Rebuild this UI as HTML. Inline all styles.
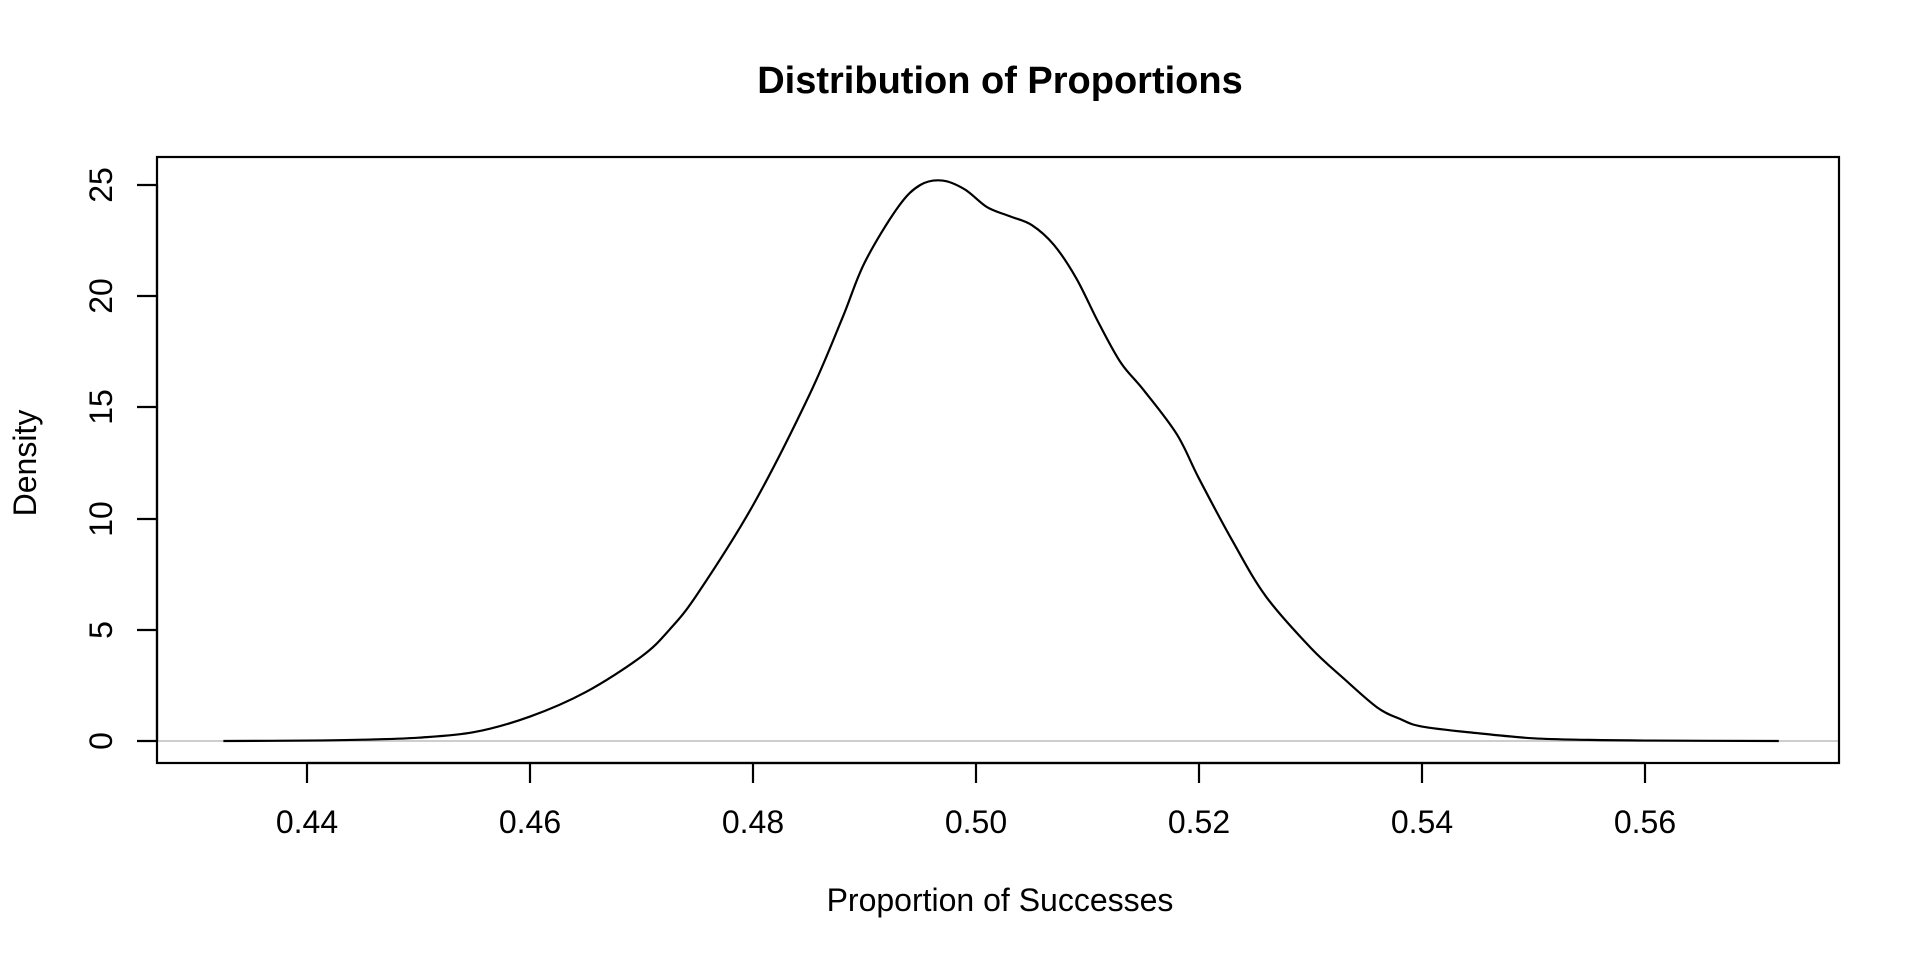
<!DOCTYPE html>
<html><head><meta charset="utf-8"><style>
html,body{margin:0;padding:0;background:#fff;}
svg{display:block;font-family:"Liberation Sans",Arial,sans-serif;}
</style></head><body>
<svg id="s" width="1920" height="960" viewBox="0 0 1920 960" xmlns="http://www.w3.org/2000/svg">
<rect width="1920" height="960" fill="#fff"/>
<text x="1000" y="93" font-size="38" font-weight="bold" text-anchor="middle">Distribution of Proportions</text>
<line x1="157" y1="741" x2="1839" y2="741" stroke="#bebebe" stroke-width="1.5"/>
<path id="curve" d="" fill="none" stroke="#000" stroke-width="2.2" stroke-linejoin="round"/>
<rect x="157" y="157" width="1682" height="606" fill="none" stroke="#000" stroke-width="2.2"/>
<g stroke="#000" stroke-width="2.2">
<line x1="307" y1="763" x2="1645" y2="763"/>
<line x1="307" y1="763" x2="307" y2="783"/><line x1="530" y1="763" x2="530" y2="783"/>
<line x1="753" y1="763" x2="753" y2="783"/><line x1="976" y1="763" x2="976" y2="783"/>
<line x1="1199" y1="763" x2="1199" y2="783"/><line x1="1422" y1="763" x2="1422" y2="783"/>
<line x1="1645" y1="763" x2="1645" y2="783"/>
<line x1="157" y1="741" x2="157" y2="185"/>
<line x1="137" y1="741" x2="157" y2="741"/><line x1="137" y1="630" x2="157" y2="630"/>
<line x1="137" y1="519" x2="157" y2="519"/><line x1="137" y1="407" x2="157" y2="407"/>
<line x1="137" y1="296" x2="157" y2="296"/><line x1="137" y1="185" x2="157" y2="185"/>
</g>
<g font-size="32" text-anchor="middle">
<text x="307" y="833">0.44</text><text x="530" y="833">0.46</text><text x="753" y="833">0.48</text>
<text x="976" y="833">0.50</text><text x="1199" y="833">0.52</text><text x="1422" y="833">0.54</text>
<text x="1645" y="833">0.56</text>
<text transform="translate(112,741) rotate(-90)">0</text>
<text transform="translate(112,630) rotate(-90)">5</text>
<text transform="translate(112,519) rotate(-90)">10</text>
<text transform="translate(112,407) rotate(-90)">15</text>
<text transform="translate(112,296) rotate(-90)">20</text>
<text transform="translate(112,185) rotate(-90)">25</text>
<text x="1000" y="911">Proportion of Successes</text>
<text transform="translate(36,463) rotate(-90)">Density</text>
</g>
</svg>
<script>
var pts=[[0.4325,0],[0.44,0.02],[0.445,0.06],[0.45,0.15],[0.455,0.4],[0.46,1.1],[0.465,2.2],[0.47,3.8],[0.4725,5],[0.475,6.6],[0.48,10.6],[0.485,15.5],[0.488,19],[0.49,21.5],[0.493,24],[0.495,25],[0.497,25.2],[0.499,24.8],[0.501,24],[0.503,23.6],[0.505,23.2],[0.507,22.3],[0.509,20.8],[0.511,18.8],[0.513,17],[0.515,15.8],[0.518,13.8],[0.52,11.8],[0.523,9],[0.526,6.5],[0.53,4.2],[0.533,2.8],[0.536,1.5],[0.538,1],[0.54,0.65],[0.545,0.35],[0.55,0.12],[0.555,0.05],[0.56,0.02],[0.572,0]];
var P=pts.map(function(p){return [976+(p[0]-0.5)*11150,741-p[1]*22.24];});
var d="M"+P[0][0]+","+P[0][1];
for(var i=0;i<P.length-1;i++){
 var p0=P[i-1]||P[i],p1=P[i],p2=P[i+1],p3=P[i+2]||P[i+1];
 d+=" C"+(p1[0]+(p2[0]-p0[0])/6)+","+(p1[1]+(p2[1]-p0[1])/6)+" "+(p2[0]-(p3[0]-p1[0])/6)+","+(p2[1]-(p3[1]-p1[1])/6)+" "+p2[0]+","+p2[1];
}
document.getElementById("curve").setAttribute("d",d);
</script>
</body></html>
